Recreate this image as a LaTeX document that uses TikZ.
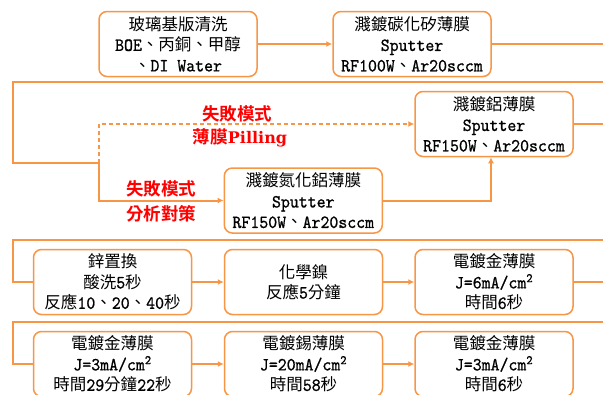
\documentclass[tikz,border=0pt]{standalone}
\usepackage{fontspec}
\setmainfont{DejaVu Serif}
\newfontfamily\lat{lmmono10-regular.otf}[FakeBold=0.9, FakeStretch=0.92]
\newfontfamily\zhfont{Noto Sans CJK TC}[BoldFont={Noto Sans CJK TC Bold}]
\usetikzlibrary{arrows.meta}
\definecolor{orn}{HTML}{F79646}
\definecolor{redt}{HTML}{FF0000}
\newcommand\zh[1]{{\zhfont\fontsize{16.5}{20.5}\selectfont #1}}
\begin{document}
\begin{tikzpicture}[x=1pt,y=-1pt,
 box/.style={draw=orn, line width=1.5pt, rounded corners=8pt, fill=white, align=center,
   inner sep=0pt, font=\lat\fontsize{18.5}{20.5}\selectfont, minimum width=158pt, minimum height=65pt},
 link/.style={draw=orn, line width=2pt},
 arr/.style={link, -{Latex[length=6pt,width=6pt]}},
 dashedlink/.style={dash pattern=on 4pt off 3pt},
 note/.style={text=redt, font=\zhfont\bfseries\fontsize{17.5}{20}\selectfont, inner sep=0pt}]
\useasboundingbox (0,0) rectangle (603,394);

% boxes
\node[box] (b1) at (178,44) {\zh{玻璃基版清洗}\\BOE\zh{、丙銅、甲醇}\\\zh{、}DI Water};
\node[box] (b2) at (412,44) {\zh{濺鍍碳化矽薄膜}\\Sputter\\RF100W\zh{、}Ar20sccm};
\node[box] (b3) at (494,124) {\zh{濺鍍鋁薄膜}\\Sputter\\RF150W\zh{、}Ar20sccm};
\node[box] (b4) at (303.3,200.5) {\zh{濺鍍氮化鋁薄膜}\\Sputter\\RF150W\zh{、}Ar20sccm};
\node[box] (b5) at (112.5,282) {\zh{鋅置換}\\\zh{酸洗}5\zh{秒}\\\zh{反應}10\zh{、}20\zh{、}40\zh{秒}};
\node[box] (b6) at (303.5,282) {\zh{化學鎳}\\\zh{反應}5\zh{分鐘}};
\node[box] (b7) at (494,282) {\zh{電鍍金薄膜}\\J=6mA/cm\textsuperscript{2}\\\zh{時間}6\zh{秒}};
\node[box] (b8) at (112.5,364) {\zh{電鍍金薄膜}\\J=3mA/cm\textsuperscript{2}\\\zh{時間}29\zh{分鐘}22\zh{秒}};
\node[box] (b9) at (303.5,364) {\zh{電鍍錫薄膜}\\J=20mA/cm\textsuperscript{2}\\\zh{時間}58\zh{秒}};
\node[box] (b10) at (494,364) {\zh{電鍍金薄膜}\\J=3mA/cm\textsuperscript{2}\\\zh{時間}6\zh{秒}};

% coordinates
\coordinate (r1) at (603,44);
\coordinate (r2) at (603,81.5);
\coordinate (l1) at (12.7,81.5);
\coordinate (l2) at (12.7,163);
\coordinate (sp) at (99.3,163);
\coordinate (dtop) at (99.3,124);
\coordinate (r3) at (603,124);
\coordinate (r4) at (603,240);
\coordinate (l3) at (12.7,240);
\coordinate (r6) at (603,282);
\coordinate (r5) at (603,321.5);
\coordinate (l5) at (12.7,321.5);

% connectors
\draw[arr] (b1) -- (b2);
\draw[link] (b2.east) -- (r1);
\draw[link] (r2) -- (l1) -- (l2) -- (sp);
\draw[arr, dashedlink] (sp) -- (dtop) -- (b3.west);
\draw[arr] (sp) -- (sp |- b4.west) -- (b4.west);
\draw[arr] (b4.east) -| ([xshift=-3pt]b3.south);
\draw[link] (b3.east) -- (r3);
\draw[link] (r4) -- (l3) -- (l3 |- b5.west) -- (b5.west);
\draw[arr] (b5) -- (b6);
\draw[arr] (b6) -- (b7);
\draw[link] (b7.east) -- (r6);
\draw[link] (r5) -- (l5) -- (l5 |- b8.west) -- (b8.west);
\draw[arr] (b8) -- (b9);
\draw[arr] (b9) -- (b10);

% red notes
\node[note] (n1) at (237,114) {失敗模式};
\node[note] (n2) at (240,138) {薄膜{\rmfamily\bfseries\fontsize{16}{20}\selectfont Pilling}};
\node[note] (n3) at (161,189) {失敗模式};
\node[note] (n4) at (161,214) {分析對策};
\end{tikzpicture}
\end{document}
